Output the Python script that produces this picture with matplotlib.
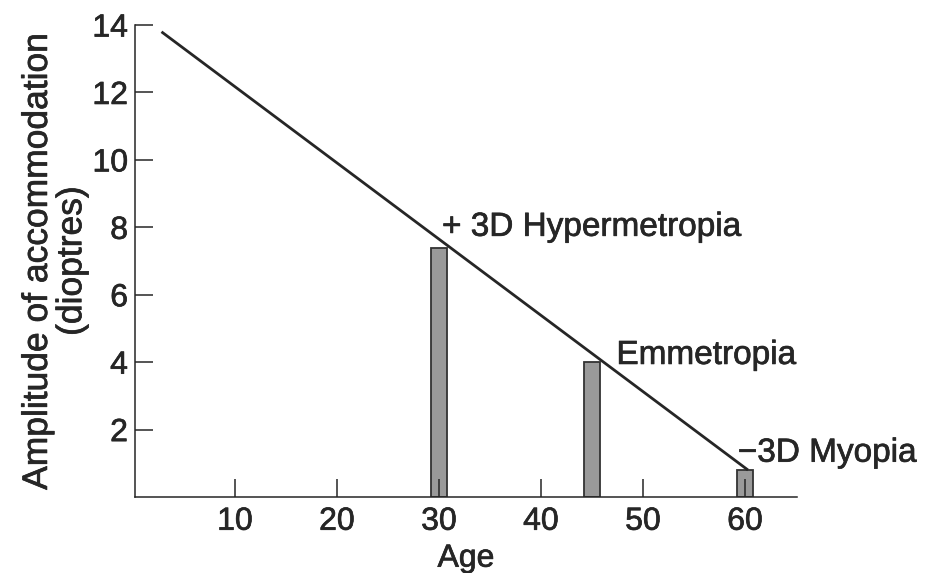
import matplotlib
matplotlib.use("Agg")
import matplotlib.pyplot as plt
import matplotlib.patheffects as pe

# Amplitude of accommodation falls roughly linearly with age
line_age = [2.8, 60.3]
line_amp = [13.8, 0.8]

# Refractive states: age at which near work (33 cm) becomes a problem
bar_age = [30, 45, 60]
bar_amp = [7.4, 4.0, 0.8]
bar_labels = ["+ 3D Hypermetropia", "Emmetropia", "\u22123D Myopia"]
label_pos = [(30.3, 8.0), (47.4, 4.2), (59.3, 1.3)]

x_ticks = [10, 20, 30, 40, 50, 60]
y_ticks = [2, 4, 6, 8, 10, 12, 14]

ink = "#262626"
plt.rcParams["font.family"] = ["Liberation Sans", "DejaVu Sans"]
heavy = [pe.withStroke(linewidth=0.5, foreground=ink)]

fig = plt.figure(figsize=(9.34, 5.73), dpi=100)
ax = fig.add_axes([0.1445, 0.1326, 0.7088, 0.8237])

ax.bar(bar_age, bar_amp, width=1.5, color="#9a9a9a", edgecolor="#333333",
       linewidth=1.3, zorder=1)
ax.plot(line_age, line_amp, color=ink, lw=2.0, solid_capstyle="butt", zorder=3)

for txt, (x, y) in zip(bar_labels, label_pos):
    ax.text(x, y, txt, ha="left", va="center", fontsize=24, color=ink,
            path_effects=heavy)

ax.set_xlim(0.2, 65.1)
ax.set_ylim(0, 14)
ax.set_xticks(x_ticks)
ax.set_yticks(y_ticks)
ax.tick_params(direction="in", length=13, width=1.1, color=ink,
               labelsize=23, labelcolor=ink)
ax.tick_params(axis="x", pad=7)
ax.tick_params(axis="y", pad=5)
for lab in ax.get_xticklabels() + ax.get_yticklabels():
    lab.set_path_effects(heavy)

for side in ("top", "right"):
    ax.spines[side].set_visible(False)
for side in ("left", "bottom"):
    ax.spines[side].set_linewidth(1.1)
    ax.spines[side].set_color(ink)

ax.set_xlabel("Age", fontsize=23, color=ink, labelpad=5, path_effects=heavy)
ax.set_ylabel("Amplitude of accommodation\n(dioptres)", fontsize=25.5,
              color=ink, linespacing=1.05, labelpad=3, path_effects=heavy)

fig.savefig("out.png", dpi=100)
